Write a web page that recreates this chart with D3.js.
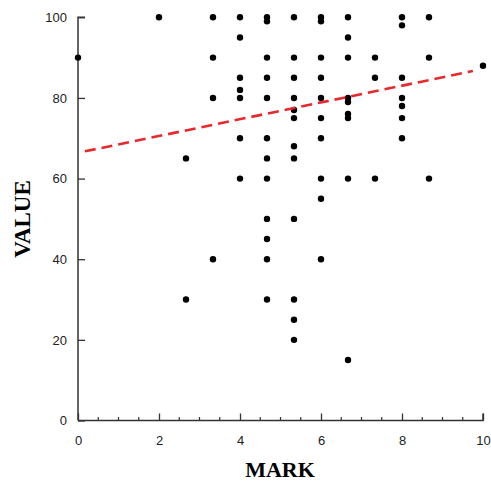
<!DOCTYPE html>
<html><head><meta charset="utf-8">
<script src="https://cdn.jsdelivr.net/npm/d3@7"></script>
<style>body{margin:0;background:#fff}svg{display:block}</style>
</head><body>
<script>
// Data: x positions (marks) and value lists per column
const markColumns = [0, 2, 8/3, 10/3, 4, 14/3, 16/3, 6, 20/3, 22/3, 8, 26/3, 10];
const columnValues = [
  [90],
  [100],
  [65, 30],
  [100, 90, 80, 40],
  [100, 95, 85, 82, 80, 70, 60],
  [100, 99, 90, 85, 80, 70, 65, 60, 50, 45, 40, 30],
  [100, 90, 85, 80, 77, 75, 68, 65, 50, 30, 25, 20],
  [100, 99, 90, 85, 80, 75, 70, 60, 55, 40],
  [100, 95, 90, 80, 79, 76, 75, 60, 15],
  [90, 85, 60],
  [100, 98, 85, 80, 78, 75, 70],
  [100, 90, 60],
  [88]
];
const trendIntercept = 66.4;
const trendSlope = 2.08;
const trendRange = [0.17, 9.75];
const xTicks = [0, 2, 4, 6, 8, 10];
const yTicks = [0, 20, 40, 60, 80, 100];

const points = [];
markColumns.forEach((m, i) => columnValues[i].forEach(v => points.push({x: m, y: v})));

const W = 491, H = 483;
const svg = d3.select("body").append("svg").attr("width", W).attr("height", H);
const x = d3.scaleLinear().domain([0, 10]).range([78, 483]);
const y = d3.scaleLinear().domain([0, 100]).range([420.5, 17.3]);

const axisColor = "#333";
// Y axis
const ya = svg.append("g").attr("transform", `translate(${x(0)},0)`)
  .call(d3.axisRight(y).tickValues(yTicks).tickSize(7).tickFormat(d3.format("d")));
ya.select(".domain").attr("d", `M7,${y(100)}H0V${y(0)}`).attr("stroke", axisColor).attr("stroke-width", 1.5);
ya.selectAll(".tick line").attr("stroke", axisColor).attr("stroke-width", 1.3);
ya.selectAll(".tick text").attr("x", -11).attr("text-anchor", "end")
  .style("font-family", "Liberation Sans, Arial, sans-serif").style("font-size", "13px").attr("fill", "#222");

// X axis
const xa = svg.append("g").attr("transform", `translate(0,${y(0)})`)
  .call(d3.axisTop(x).tickValues(xTicks).tickSize(7).tickFormat(d3.format("d")));
xa.select(".domain").attr("d", `M${x(0)},0H${x(10)}V-7`).attr("stroke", axisColor).attr("stroke-width", 1.5);
xa.selectAll(".tick line").attr("stroke", axisColor).attr("stroke-width", 1.3);
xa.selectAll(".tick text").attr("y", 20).attr("dy", "0.32em")
  .style("font-family", "Liberation Sans, Arial, sans-serif").style("font-size", "13px").attr("fill", "#222");
// minor ticks
const minor = d3.range(0.5, 10, 0.5).filter(v => v % 2 !== 0);
svg.append("g").selectAll("line").data(minor).join("line")
  .attr("x1", d => x(d)).attr("x2", d => x(d))
  .attr("y1", y(0)).attr("y2", y(0) - 3.5)
  .attr("stroke", axisColor).attr("stroke-width", 1.2);

// Points
svg.append("g").selectAll("circle").data(points).join("circle")
  .attr("cx", d => x(d.x)).attr("cy", d => y(d.y)).attr("r", 3.2).attr("fill", "#000");

// Trend line
svg.append("line")
  .attr("x1", x(trendRange[0])).attr("y1", y(trendIntercept + trendSlope * trendRange[0]))
  .attr("x2", x(trendRange[1])).attr("y2", y(trendIntercept + trendSlope * trendRange[1]))
  .attr("stroke", "#e8282c").attr("stroke-width", 2.6).attr("stroke-dasharray", "11,6");

// Axis titles
svg.append("text").attr("x", 280).attr("y", 477).attr("text-anchor", "middle")
  .style("font-family", "Liberation Serif, Times New Roman, serif").style("font-weight", "bold").style("font-size", "22px")
  .text("MARK");
svg.append("text").attr("transform", "translate(30,219) rotate(-90)").attr("text-anchor", "middle")
  .style("font-family", "Liberation Serif, Times New Roman, serif").style("font-weight", "bold").style("font-size", "23px")
  .text("VALUE");
</script>
</body></html>
